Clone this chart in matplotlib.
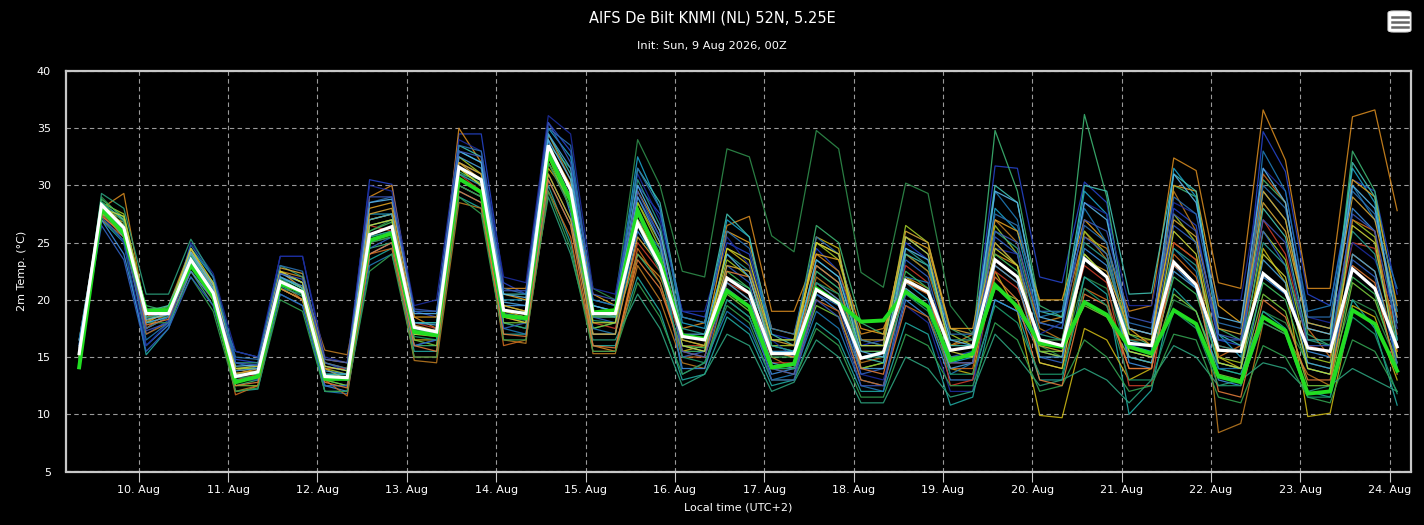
import matplotlib
matplotlib.use("Agg")
import matplotlib.pyplot as plt
from matplotlib.patches import FancyBboxPatch
from matplotlib.lines import Line2D
import pandas as pd

# ---------------- data ----------------
title = "AIFS De Bilt KNMI (NL) 52N, 5.25E"
subtitle = "Init: Sun, 9 Aug 2026, 00Z"
ylabel = "2m Temp. (°C)"
xlabel = "Local time (UTC+2)"
first_time = "2026-08-09 08:00"   # local time of first value, 6-hourly
n_steps = 60
tick_days = [f"2026-08-{d:02d}" for d in range(10, 25)]

white_line = [15.3, 28.3, 26.3, 18.8, 18.8, 23.5, 20.6, 13.3, 13.7, 21.6, 20.7, 13.3,
              13.2, 25.7, 26.4, 17.6, 17.2, 31.6, 30.5, 19.1, 18.8, 33.5, 29.6, 18.8,
              18.8, 26.7, 23.0, 16.8, 16.5, 21.9, 20.6, 15.3, 15.3, 20.9, 19.7, 14.9,
              15.4, 21.7, 20.7, 15.6, 15.9, 23.5, 22.0, 16.5, 16.0, 23.6, 22.0, 16.2,
              16.0, 23.3, 21.3, 15.6, 15.5, 22.3, 20.7, 15.8, 15.5, 22.7, 21.0, 15.9]

green_line = [14.1, 27.9, 25.8, 19.0, 19.1, 23.0, 20.3, 12.8, 13.3, 21.4, 20.7, 13.1,
              13.1, 25.2, 25.8, 17.2, 16.9, 30.6, 29.4, 18.6, 18.4, 32.8, 28.7, 18.9,
              19.1, 27.8, 23.5, 16.9, 16.6, 20.8, 19.4, 14.1, 14.4, 21.0, 19.7, 18.1,
              18.2, 20.7, 19.4, 14.7, 15.3, 21.3, 19.4, 16.2, 15.9, 19.8, 18.7, 15.9,
              15.3, 19.1, 17.9, 13.3, 12.8, 18.5, 17.3, 11.8, 12.0, 19.1, 17.9, 13.8]

m01 = [15.8, 28.5, 27.0, 17.0, 18.2, 24.0, 21.5, 14.8, 14.5, 23.8, 23.8, 14.5,
       13.8, 30.5, 30.1, 19.0, 18.5, 34.5, 34.5, 21.5, 20.5, 35.5, 33.0, 19.5,
       19.0, 30.0, 27.5, 19.0, 18.5, 25.0, 24.0, 17.0, 16.5, 24.5, 22.5, 16.0,
       16.5, 25.0, 23.5, 15.5, 16.0, 31.7, 31.5, 22.0, 21.5, 30.3, 28.5, 17.5,
       17.0, 28.0, 26.5, 16.5, 16.0, 34.7, 31.2, 20.5, 19.5, 30.5, 29.5, 20.5]
m02 = [16.5, 28.0, 29.3, 18.5, 19.5, 24.5, 21.0, 14.0, 13.5, 22.5, 22.0, 14.5,
       14.0, 29.0, 30.0, 18.5, 17.5, 35.0, 32.0, 21.0, 21.0, 33.0, 30.0, 16.0,
       15.5, 24.0, 22.0, 17.5, 18.0, 26.5, 27.3, 19.0, 19.0, 24.0, 22.5, 17.0,
       17.5, 22.0, 21.0, 16.0, 17.0, 24.0, 23.0, 18.0, 18.5, 25.5, 24.5, 19.0,
       19.5, 32.4, 31.3, 21.5, 21.0, 36.6, 32.2, 21.0, 21.0, 36.0, 36.6, 27.8]
m03 = [15.0, 29.0, 27.0, 18.0, 19.5, 23.5, 20.5, 13.5, 13.5, 21.0, 20.5, 13.0,
       13.0, 26.0, 27.0, 17.5, 17.0, 31.0, 30.5, 19.0, 19.0, 33.5, 31.5, 21.0,
       20.0, 34.0, 30.0, 22.5, 22.0, 33.2, 32.5, 25.6, 24.2, 34.8, 33.2, 22.4,
       21.1, 30.2, 29.3, 19.5, 17.0, 25.0, 23.0, 16.0, 15.0, 22.0, 21.0, 15.0,
       14.5, 20.0, 19.0, 14.0, 13.5, 19.0, 18.0, 14.5, 14.0, 20.0, 19.0, 14.5]
m04 = [14.5, 28.5, 26.0, 19.5, 19.0, 22.5, 19.5, 12.5, 13.0, 21.0, 20.0, 12.5,
       12.5, 24.5, 25.0, 16.0, 16.0, 30.0, 29.0, 18.0, 17.5, 31.0, 27.0, 17.5,
       18.0, 24.0, 21.5, 15.5, 15.5, 22.0, 21.0, 16.5, 16.5, 26.5, 25.0, 18.0,
       17.0, 24.0, 22.5, 17.5, 16.5, 34.8, 29.5, 19.5, 18.5, 36.2, 29.0, 17.0,
       16.0, 30.0, 29.0, 17.5, 16.5, 30.5, 28.5, 17.0, 16.0, 33.0, 29.5, 19.0]
m05 = [16.0, 27.0, 25.0, 15.2, 17.5, 23.0, 20.0, 12.0, 12.2, 20.5, 19.5, 12.0,
       12.0, 23.5, 24.5, 15.5, 15.5, 29.0, 28.0, 17.0, 17.0, 30.0, 25.0, 16.0,
       16.0, 22.0, 19.0, 13.0, 13.5, 18.5, 17.0, 12.5, 13.0, 18.0, 16.5, 12.0,
       12.0, 18.0, 17.0, 10.8, 11.5, 20.0, 19.0, 13.0, 13.0, 22.0, 20.5, 10.0,
       12.1, 21.0, 19.0, 14.0, 13.5, 19.0, 17.5, 12.0, 11.5, 20.0, 17.5, 10.8]
m06 = [15.5, 27.5, 26.5, 17.5, 18.5, 24.0, 21.0, 13.5, 13.5, 22.0, 21.0, 13.5,
       13.0, 27.0, 27.5, 16.5, 16.5, 31.5, 30.0, 19.0, 18.5, 31.5, 29.0, 17.0,
       17.0, 28.5, 25.0, 15.5, 16.0, 24.5, 23.0, 15.5, 15.0, 25.5, 24.5, 14.0,
       14.5, 22.0, 20.5, 14.0, 13.5, 22.5, 19.0, 9.9, 9.7, 17.5, 16.5, 13.0,
       14.0, 25.0, 23.5, 15.0, 14.0, 24.5, 21.5, 9.8, 10.1, 19.5, 18.5, 13.0]
m07 = [15.0, 27.0, 25.5, 17.0, 18.0, 22.5, 20.0, 12.0, 12.5, 22.5, 21.5, 15.6,
       15.2, 25.0, 25.5, 14.7, 14.5, 28.5, 28.0, 16.5, 16.2, 34.5, 30.5, 15.3,
       15.3, 23.0, 20.0, 14.5, 14.0, 21.5, 20.0, 15.0, 14.0, 22.0, 20.5, 14.5,
       15.0, 24.0, 22.5, 16.0, 16.5, 27.0, 25.0, 17.5, 16.5, 26.0, 23.5, 16.5,
       16.5, 29.5, 26.0, 8.4, 9.2, 18.0, 17.0, 13.5, 12.5, 24.0, 22.5, 15.5]
m08 = [16.5, 28.0, 26.0, 18.0, 18.5, 24.5, 22.0, 14.0, 14.0, 22.0, 21.0, 13.5,
       13.5, 27.5, 27.5, 18.0, 18.0, 33.0, 32.0, 20.0, 20.0, 35.0, 32.5, 20.0,
       19.5, 32.5, 28.0, 18.0, 17.5, 27.0, 25.5, 16.0, 15.5, 21.0, 19.5, 15.0,
       15.5, 21.5, 20.0, 14.5, 15.0, 28.0, 26.0, 18.0, 17.5, 29.5, 27.5, 16.0,
       15.5, 31.5, 29.0, 17.0, 15.0, 29.5, 27.0, 18.0, 17.5, 31.5, 28.5, 16.5]
m09 = [15.5, 27.0, 24.0, 16.0, 17.8, 22.5, 20.0, 15.5, 15.0, 21.5, 20.5, 12.5,
       12.0, 24.0, 25.0, 17.0, 17.5, 32.0, 31.0, 19.5, 19.5, 34.0, 27.5, 17.0,
       17.0, 26.0, 23.0, 14.0, 14.0, 20.0, 18.5, 13.5, 14.0, 20.5, 19.0, 13.0,
       12.5, 20.0, 18.5, 13.0, 13.0, 20.0, 19.0, 15.5, 15.0, 24.5, 23.0, 14.5,
       14.0, 23.0, 21.0, 13.0, 12.5, 22.0, 20.5, 15.5, 15.0, 28.0, 26.0, 14.0]
m10 = [16.0, 28.0, 26.5, 18.5, 19.0, 23.5, 21.0, 13.0, 13.5, 21.0, 20.0, 14.0,
       14.0, 26.5, 26.0, 18.0, 17.5, 31.0, 29.5, 18.5, 18.0, 32.0, 28.0, 18.0,
       17.5, 25.0, 22.5, 16.0, 16.0, 21.5, 20.5, 14.5, 14.5, 21.5, 20.0, 15.5,
       15.5, 23.0, 21.5, 12.5, 13.0, 22.5, 21.0, 16.5, 16.0, 23.0, 21.5, 12.5,
       12.5, 25.0, 23.5, 16.0, 15.5, 27.0, 24.0, 16.0, 15.5, 25.0, 24.5, 17.0]
m11 = [15.0, 28.5, 27.5, 19.0, 19.0, 24.0, 21.5, 14.0, 14.0, 22.5, 21.5, 14.0,
       13.5, 27.0, 27.5, 17.0, 17.0, 32.5, 31.0, 19.5, 19.0, 32.0, 28.5, 18.5,
       18.5, 28.5, 24.5, 17.0, 16.5, 23.5, 22.0, 16.0, 16.0, 25.0, 23.5, 16.5,
       16.0, 26.5, 25.0, 17.0, 16.0, 26.5, 24.0, 15.5, 15.0, 26.0, 24.0, 17.0,
       16.5, 27.5, 25.0, 15.0, 14.5, 26.0, 23.5, 15.0, 14.5, 27.0, 25.5, 16.0]
m12 = [16.0, 27.5, 25.0, 16.0, 18.0, 25.0, 22.3, 15.5, 15.0, 23.8, 23.8, 15.0,
       14.5, 30.0, 29.5, 19.5, 20.0, 34.0, 33.0, 22.0, 21.5, 36.1, 34.5, 21.0,
       20.5, 31.0, 27.0, 19.0, 19.0, 25.5, 23.0, 16.5, 15.0, 22.5, 21.0, 13.5,
       13.0, 19.5, 18.0, 12.0, 12.0, 24.5, 24.0, 17.0, 18.0, 28.5, 27.5, 19.5,
       19.5, 28.5, 27.5, 20.0, 20.0, 31.5, 29.5, 18.5, 18.0, 25.0, 23.5, 18.5]
m13 = [14.5, 29.3, 28.0, 20.5, 20.5, 25.3, 22.0, 14.5, 14.5, 23.0, 22.0, 13.0,
       12.5, 25.5, 26.0, 17.5, 17.0, 30.5, 29.5, 18.0, 17.5, 29.0, 24.0, 16.5,
       16.5, 20.5, 17.5, 12.5, 13.5, 17.0, 16.0, 12.0, 12.8, 16.5, 15.0, 11.0,
       11.0, 15.0, 14.0, 11.5, 12.0, 17.0, 15.0, 12.5, 13.0, 14.0, 13.0, 11.0,
       13.0, 16.0, 15.0, 12.5, 13.0, 14.5, 14.0, 12.0, 12.5, 14.0, 13.0, 12.0]
m14 = [15.5, 28.0, 27.0, 18.0, 19.0, 24.5, 21.0, 13.5, 14.0, 22.5, 21.0, 14.0,
       13.0, 28.0, 28.5, 18.5, 18.5, 32.0, 31.0, 20.5, 20.0, 33.5, 30.0, 20.5,
       19.5, 29.5, 26.0, 17.0, 16.5, 26.0, 25.0, 17.5, 17.0, 24.0, 23.5, 17.5,
       17.0, 25.5, 24.5, 17.5, 17.5, 27.0, 26.0, 20.0, 20.0, 27.0, 25.0, 17.5,
       16.0, 30.0, 29.5, 19.5, 18.0, 29.5, 27.0, 17.5, 17.0, 30.5, 29.0, 19.5]
m15 = [14.8, 28.5, 26.5, 18.5, 18.5, 23.5, 20.5, 12.5, 12.5, 21.0, 20.0, 13.0,
       12.5, 25.0, 26.0, 16.5, 16.0, 30.5, 29.5, 18.0, 18.0, 32.5, 28.0, 17.5,
       18.0, 27.5, 23.5, 16.5, 16.0, 20.5, 19.0, 14.0, 14.0, 19.5, 18.5, 14.0,
       14.5, 21.0, 19.5, 15.0, 15.0, 21.0, 20.0, 15.5, 15.5, 19.5, 18.5, 15.0,
       14.5, 20.5, 19.0, 13.5, 13.0, 20.5, 19.0, 12.5, 12.5, 21.5, 20.0, 14.5]
m16 = [16.5, 27.5, 26.0, 16.5, 18.0, 24.0, 21.5, 14.5, 14.0, 22.0, 20.5, 12.0,
       11.8, 23.0, 24.0, 16.0, 16.5, 29.5, 28.5, 17.5, 17.0, 30.5, 26.5, 17.5,
       17.0, 27.0, 24.5, 13.5, 14.5, 19.0, 17.5, 13.0, 13.5, 19.0, 17.5, 12.5,
       12.0, 22.0, 21.5, 13.5, 14.5, 29.5, 27.0, 18.5, 19.0, 28.0, 25.0, 15.5,
       15.0, 24.5, 22.5, 14.0, 14.0, 33.0, 29.5, 19.0, 19.5, 30.0, 27.0, 21.0]
m17 = [15.5, 27.5, 25.5, 17.5, 19.0, 23.0, 20.5, 11.7, 12.5, 21.5, 20.0, 13.0,
       11.6, 24.0, 24.5, 15.0, 15.0, 30.0, 29.0, 16.0, 16.5, 29.5, 25.5, 15.5,
       15.5, 24.5, 21.5, 15.0, 15.0, 22.0, 20.5, 14.0, 13.5, 20.0, 19.0, 13.0,
       12.5, 19.5, 18.5, 14.0, 14.0, 23.0, 21.5, 14.5, 14.0, 21.0, 20.0, 14.0,
       14.0, 24.0, 22.0, 15.0, 16.0, 31.0, 28.5, 17.5, 15.0, 27.0, 26.0, 15.5]
m18 = [14.3, 28.0, 26.5, 18.0, 18.0, 22.0, 19.0, 12.0, 12.3, 20.0, 19.0, 12.0,
       12.0, 22.5, 24.0, 15.0, 15.0, 29.0, 27.5, 16.5, 16.5, 29.5, 24.5, 15.5,
       15.5, 21.5, 18.5, 13.5, 14.5, 19.5, 18.0, 13.0, 13.0, 17.5, 16.0, 11.5,
       11.5, 17.0, 16.0, 12.5, 12.5, 18.0, 16.5, 12.0, 12.5, 16.5, 15.0, 12.0,
       12.5, 17.0, 16.5, 11.5, 11.0, 16.0, 15.0, 11.5, 11.0, 16.5, 15.5, 12.0]
m19 = [15.8, 28.5, 27.0, 19.0, 19.5, 24.0, 21.0, 13.5, 13.5, 22.0, 21.0, 13.5,
       13.5, 26.5, 27.0, 18.0, 18.0, 33.5, 32.5, 20.5, 20.5, 34.5, 31.0, 19.5,
       19.0, 31.5, 28.5, 18.5, 18.0, 27.5, 25.5, 17.0, 16.0, 23.0, 21.5, 15.0,
       14.5, 24.0, 23.0, 16.0, 16.0, 30.0, 28.5, 19.0, 18.5, 30.0, 29.5, 20.5,
       20.6, 31.0, 29.5, 17.0, 16.0, 28.0, 25.5, 16.5, 16.5, 32.0, 29.0, 16.5]
m20 = [15.0, 26.5, 23.5, 15.5, 17.5, 22.0, 19.5, 13.0, 13.0, 20.5, 19.5, 12.5,
       12.5, 24.5, 25.5, 16.0, 16.5, 31.0, 30.0, 17.5, 18.0, 33.0, 29.0, 18.5,
       18.0, 29.0, 25.5, 15.0, 15.5, 23.0, 21.5, 14.0, 13.5, 20.5, 19.5, 13.5,
       14.0, 23.5, 22.0, 15.0, 15.5, 25.5, 24.0, 15.0, 14.5, 25.5, 24.0, 16.0,
       16.0, 26.5, 25.0, 16.5, 16.5, 26.0, 23.0, 14.0, 13.5, 23.5, 22.0, 14.5]
m21 = [15.2, 28.2, 26.0, 18.5, 18.8, 23.2, 20.2, 13.0, 13.2, 21.2, 20.3, 13.2,
       13.0, 25.5, 26.0, 17.0, 17.0, 31.0, 30.0, 18.8, 18.5, 33.0, 29.0, 18.5,
       18.5, 30.5, 26.5, 17.5, 17.0, 24.0, 22.5, 16.0, 15.5, 23.5, 22.0, 16.0,
       16.0, 24.5, 23.0, 16.5, 16.5, 26.0, 24.5, 17.0, 16.5, 25.0, 23.5, 16.5,
       16.0, 24.5, 23.0, 16.0, 15.5, 25.0, 23.0, 16.5, 16.0, 26.0, 24.0, 16.0]
m22 = [15.6, 27.8, 25.5, 18.0, 18.5, 23.8, 21.0, 13.8, 14.0, 22.0, 21.2, 13.8,
       13.5, 27.0, 27.5, 18.0, 17.8, 32.5, 31.5, 19.8, 19.5, 34.5, 31.5, 19.0,
       18.5, 29.0, 25.0, 16.0, 15.5, 21.5, 20.0, 14.5, 14.0, 21.5, 20.0, 14.0,
       14.0, 21.0, 19.5, 14.0, 14.5, 23.0, 21.5, 15.0, 15.0, 23.5, 22.0, 15.0,
       14.5, 22.5, 21.0, 14.5, 14.0, 23.5, 21.5, 14.5, 14.0, 24.0, 22.5, 15.0]
m23 = [15.8, 27.5, 26.8, 18.2, 18.8, 24.2, 21.3, 13.6, 13.8, 22.8, 22.3, 14.8,
       14.5, 27.5, 28.0, 17.8, 17.3, 32.0, 30.5, 19.5, 19.0, 31.0, 27.0, 17.0,
       17.0, 25.5, 23.0, 16.5, 16.0, 23.0, 22.5, 16.5, 16.0, 25.0, 24.0, 16.5,
       16.5, 26.0, 25.0, 17.5, 17.0, 25.0, 23.0, 16.0, 15.5, 23.5, 22.5, 17.5,
       17.0, 27.0, 25.5, 17.5, 17.0, 28.5, 26.0, 18.0, 17.5, 29.0, 27.0, 18.5]
m24 = [14.6, 28.8, 27.2, 19.2, 19.3, 23.6, 20.8, 13.3, 13.6, 21.8, 20.8, 13.4,
       13.3, 26.0, 26.8, 17.3, 17.2, 31.2, 30.2, 19.0, 18.8, 33.0, 28.5, 18.6,
       18.6, 28.0, 24.0, 16.0, 15.8, 22.5, 21.0, 15.0, 15.0, 22.5, 21.0, 15.5,
       15.5, 22.5, 21.0, 15.0, 15.0, 24.0, 22.5, 16.5, 16.5, 24.0, 22.0, 15.5,
       15.0, 22.0, 20.5, 14.5, 14.0, 21.5, 20.0, 14.0, 13.5, 22.0, 20.5, 14.0]
m25 = [16.2, 27.2, 25.2, 17.5, 18.5, 24.8, 22.0, 15.0, 14.8, 23.0, 22.5, 14.5,
       14.0, 28.5, 29.0, 19.0, 19.0, 33.5, 33.0, 21.0, 20.5, 35.0, 33.5, 20.0,
       19.5, 31.5, 28.0, 18.5, 18.0, 26.0, 24.5, 17.5, 17.0, 25.5, 24.0, 16.5,
       16.0, 25.5, 24.0, 17.0, 17.0, 27.5, 26.5, 19.0, 19.0, 26.5, 25.0, 18.0,
       17.5, 29.0, 27.5, 18.0, 17.5, 30.0, 28.0, 18.5, 18.5, 29.5, 27.5, 19.0]
m26 = [15.4, 27.3, 25.8, 17.8, 18.3, 23.0, 20.0, 12.5, 12.8, 21.0, 20.0, 12.8,
       12.3, 24.0, 25.0, 16.0, 15.5, 29.5, 28.5, 17.0, 16.8, 30.5, 26.5, 16.0,
       15.8, 23.5, 21.0, 15.5, 15.0, 22.5, 22.0, 15.5, 15.0, 23.0, 21.5, 14.0,
       13.5, 21.5, 20.5, 14.5, 14.5, 22.0, 20.0, 13.0, 12.5, 20.5, 19.5, 14.0,
       14.0, 23.0, 21.5, 12.0, 11.5, 20.0, 18.5, 13.0, 13.0, 23.0, 21.5, 13.5]
m27 = [14.9, 28.6, 26.8, 18.8, 19.2, 23.8, 20.6, 13.2, 13.3, 21.5, 20.5, 13.3,
       13.0, 25.0, 25.5, 16.8, 16.5, 30.0, 29.0, 18.5, 18.2, 32.0, 28.0, 18.2,
       18.0, 26.5, 22.5, 15.0, 14.5, 20.0, 18.5, 14.0, 14.0, 21.5, 20.5, 15.0,
       15.0, 20.5, 19.0, 13.5, 13.5, 19.5, 18.0, 13.5, 13.5, 21.0, 19.5, 13.0,
       13.0, 19.0, 17.5, 12.5, 12.5, 18.0, 17.0, 11.5, 11.5, 18.5, 17.0, 11.8]
m28 = [16.0, 28.0, 26.3, 18.3, 18.7, 24.2, 21.3, 14.2, 14.3, 22.3, 21.5, 14.2,
       13.8, 28.5, 28.8, 18.8, 18.8, 33.0, 32.0, 20.5, 20.2, 34.0, 30.5, 19.5,
       19.0, 30.0, 26.0, 17.0, 17.0, 24.0, 22.0, 15.5, 15.5, 23.5, 22.0, 15.5,
       15.0, 24.5, 23.5, 16.5, 16.0, 29.5, 28.5, 18.5, 18.0, 28.5, 27.0, 17.5,
       17.0, 31.0, 28.5, 18.5, 18.0, 31.5, 28.5, 17.5, 17.0, 30.0, 28.0, 18.0]
m29 = [15.1, 28.0, 27.3, 19.0, 19.0, 24.5, 21.5, 14.0, 14.2, 22.5, 21.5, 14.2,
       13.8, 26.5, 27.0, 17.0, 16.8, 31.5, 30.0, 18.5, 18.0, 32.5, 29.0, 18.0,
       18.0, 27.0, 23.5, 16.0, 15.5, 24.5, 23.5, 16.5, 16.5, 25.0, 24.0, 16.0,
       16.0, 25.5, 24.0, 15.5, 15.0, 24.5, 23.0, 14.5, 14.0, 24.0, 22.0, 15.5,
       15.0, 26.0, 24.0, 14.5, 14.0, 24.0, 22.0, 14.0, 13.5, 26.5, 25.0, 15.0]
m30 = [15.7, 28.3, 26.0, 17.3, 18.0, 23.3, 20.8, 14.5, 14.3, 22.3, 21.8, 14.8,
       14.5, 29.0, 29.0, 19.2, 19.0, 33.0, 32.5, 20.8, 20.8, 35.5, 32.0, 20.5,
       20.0, 29.5, 25.5, 15.5, 15.0, 21.0, 19.5, 13.0, 13.0, 20.0, 18.5, 12.5,
       12.5, 20.5, 19.5, 14.5, 14.5, 26.0, 25.0, 18.0, 17.5, 27.0, 26.0, 18.5,
       18.0, 27.5, 26.0, 17.0, 16.5, 27.0, 25.0, 16.0, 16.0, 27.5, 26.0, 17.5]

members = [m01, m02, m03, m04, m05, m06, m07, m08, m09, m10,
           m11, m12, m13, m14, m15, m16, m17, m18, m19, m20,
           m21, m22, m23, m24, m25, m26, m27, m28, m29, m30]
member_colors = ["#2442c4", "#d2871e", "#2e8b4a", "#3cb371", "#20a8a0",
                 "#c8b414", "#b87820", "#1aa0c8", "#3c8cdc", "#c83c28",
                 "#a0c828", "#1c2c9c", "#2ca07c", "#e0a020", "#78c83c",
                 "#1e78b4", "#cd6a1e", "#32a050", "#40c0b0", "#3060c0",
                 "#2a9d8f", "#48a0d8", "#d4a537", "#3fbf5f", "#2b6fb0",
                 "#e07b39", "#1d9a6c", "#5ab4e6", "#c9d33a", "#3a55b5"]

# ---------------- figure ----------------
W, H = 1424, 525
fig = plt.figure(figsize=(W / 100, H / 100), dpi=100, facecolor="black")
ax = fig.add_axes([66 / W, 1 - 471.5 / H, (1411.3 - 66) / W, (471.5 - 71) / H])
ax.set_facecolor("black")

times = pd.date_range(first_time, periods=n_steps, freq="6h")

for vals, col in zip(members, member_colors):
    ax.plot(times, vals, color=col, lw=0.9, alpha=0.9, zorder=2)
ax.plot(times, green_line, color="#22dd22", lw=2.8, zorder=3,
        solid_joinstyle="miter")
ax.plot(times, white_line, color="white", lw=2.3, zorder=4,
        solid_joinstyle="miter")

ax.set_xlim(pd.Timestamp("2026-08-09 04:28"), pd.Timestamp("2026-08-24 05:48"))
ax.set_ylim(5, 40)
ax.set_yticks(range(5, 41, 5))
ticks = pd.to_datetime(tick_days)
ax.set_xticks(ticks)
ax.set_xticklabels([f"{t.day}. Aug" for t in ticks])

ax.grid(True, color="#9a9a9a", linestyle=(0, (4, 3)), linewidth=0.8, zorder=1)
for s in ax.spines.values():
    s.set_color("#c8c8c8")
    s.set_linewidth(1.6)
ax.tick_params(axis="x", colors="#c8c8c8", length=7, width=0.8,
               labelcolor="white", labelsize=8, pad=3)
ax.tick_params(axis="y", length=0, labelcolor="white", labelsize=8, pad=11)

ax.set_xlabel(xlabel, color="white", fontsize=8, labelpad=5)
ax.set_ylabel(ylabel, color="white", fontsize=8, labelpad=7)

fig.text(0.5, 1 - 18 / H, title, color="white", fontsize=10.5,
         ha="center", va="center")
fig.text(0.5, 1 - 46 / H, subtitle, color="white", fontsize=8.2,
         ha="center", va="center")

# menu button (top right)
bx0, by0, bx1, by1 = 1388, 11, 1411, 32
btn = FancyBboxPatch((bx0 / W, 1 - by1 / H), (bx1 - bx0) / W, (by1 - by0) / H,
                     boxstyle="round,pad=0,rounding_size=0.004",
                     transform=fig.transFigure, facecolor="white",
                     edgecolor="#dddddd", lw=0.8)
fig.patches.append(btn)
for yy in (16.5, 21.5, 26.5):
    fig.add_artist(Line2D([1392 / W, 1407.5 / W], [1 - yy / H, 1 - yy / H],
                          transform=fig.transFigure, color="#666666", lw=1.8))

fig.savefig("out.png", dpi=100, facecolor="black")
